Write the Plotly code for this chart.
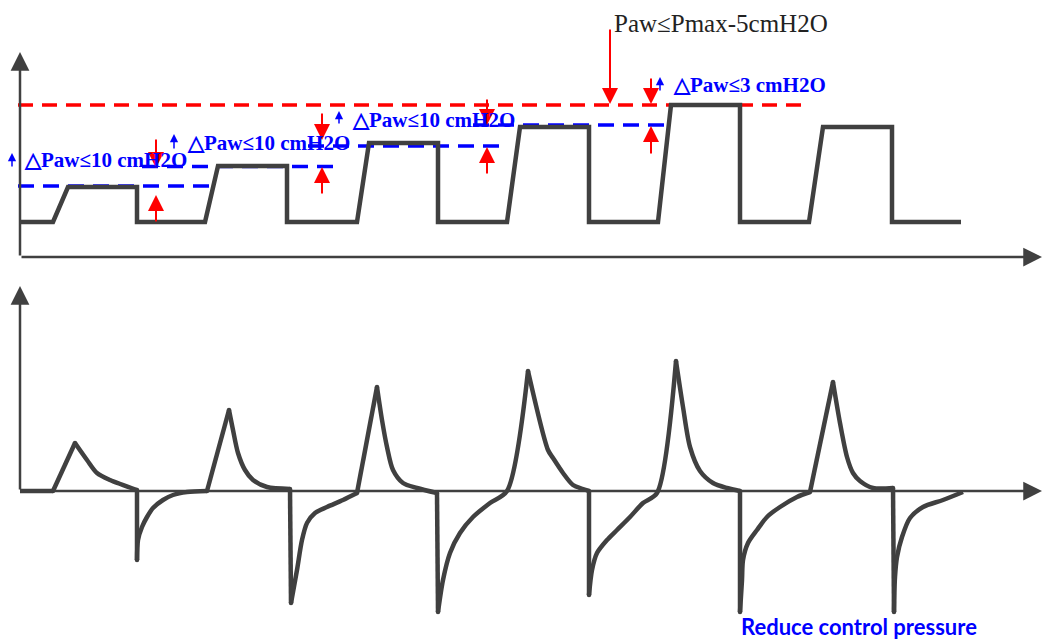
import math
import plotly.graph_objects as go

# ---- top panel: airway pressure (time, level) ----
paw_t = [0, 33, 48, 117, 117, 185, 198, 267, 267, 337, 349, 418, 418, 487, 500, 569,
         569, 638, 651, 720, 720, 789, 803, 872, 872, 941]
paw_v = [35, 35, 70, 70, 35, 35, 91, 91, 35, 35, 114, 114, 35, 35, 130, 130,
         35, 35, 152, 152, 35, 35, 130, 130, 35, 35]

# red limit line (Pmax - 5)
pmax_level = 152
pmax_t = [-2, 790]

# blue target lines: level, start, end
target_level = [71, 90.5, 111, 132]
target_start = [-2, 122, 288, 453]
target_end = [193, 315, 482, 647]

# red arrows: time, down arrow (from, to), up arrow (from, to)
red_t = [136, 302, 467, 631]
red_down_from = [119, 145, 159, 180]
red_down_to = [89, 117, 132, 153]
red_up_from = [34, 62, 82, 102]
red_up_to = [62, 90, 110, 131]

# long arrow to the Pmax line
pmax_arrow_t = 590
pmax_arrow_from = 229
pmax_arrow_to = 153

# blue labels
label_text = ["△Paw≤10 cmH2O", "△Paw≤10 cmH2O", "△Paw≤10 cmH2O", "△Paw≤3 cmH2O"]
label_t = [2, 165, 330, 651]
label_v = [97, 114, 137, 172]
small_arrow_t = [-8, 154, 319, 640]
small_arrow_from = [89, 107, 132, 165]
small_arrow_to = [104, 123, 146, 180]

pmax_label = "Paw≤Pmax-5cmH2O"
pmax_label_t = 592
pmax_label_v = 234

# ---- bottom panel: flow ----
flow_t = [0, 33, 55, 67, 77, 90, 117,
          117, 118, 122, 127, 133, 143, 153, 167, 187,
          209, 213, 218, 225, 233, 247, 270,
          271, 277, 282, 287, 295, 307, 323, 337,
          357, 362, 367, 373, 383, 397, 417,
          418, 423, 430, 440, 453, 470, 487,
          508, 528, 533, 543, 553, 563, 569,
          569, 572, 577, 587, 597, 610, 623, 637,
          656, 663, 670, 680, 693, 707, 720,
          720, 722, 723, 728, 737, 747, 760, 777, 790,
          813, 820, 827, 833, 840, 853, 873,
          874, 875, 877, 882, 890, 903, 923, 943]
flow_v = [0, 0, 48, 31, 18, 11, 1,
          -69, -49, -36, -26, -17, -9, -4, -1, 0,
          81, 61, 38, 21, 11, 4, 2,
          -112, -79, -49, -32, -22, -16, -9, -2,
          104, 71, 44, 21, 8, 3, -2,
          -121, -89, -62, -42, -26, -12, 0,
          120, 41, 33, 18, 6, 2, 0,
          -104, -79, -62, -49, -39, -26, -12, -2,
          130, 84, 44, 20, 8, 3, 0,
          -121, -89, -69, -52, -39, -26, -16, -6, -1,
          109, 68, 34, 18, 10, 3, 3,
          -121, -86, -66, -46, -27, -16, -9, -1]

bottom_label = "Reduce control pressure"
bottom_label_t = 719
bottom_label_v = -151

axis_end = 1022
axis_top = 205

DARK = "#404040"
RED = "#FF0000"
BLUE = "#0000FF"


# split the flow curve at its sharp corners so the smooth parts can be splined
def turn(i):
    a = math.atan2(flow_v[i] - flow_v[i - 1], flow_t[i] - flow_t[i - 1])
    b = math.atan2(flow_v[i + 1] - flow_v[i], flow_t[i + 1] - flow_t[i])
    d = abs(b - a)
    return min(d, 2 * math.pi - d)


corners = [i for i in range(1, len(flow_t) - 1) if turn(i) > math.radians(50)]
seg_x, seg_y = [], []
start = 0
for c in corners + [len(flow_t) - 1]:
    seg_x += flow_t[start:c + 1] + [None]
    seg_y += flow_v[start:c + 1] + [None]
    start = c

fig = go.Figure()

fig.add_trace(go.Scatter(x=pmax_t, y=[pmax_level] * 2, mode="lines",
                         line=dict(color=RED, width=3.5, dash="15px,9px"),
                         hoverinfo="skip"))
for lv, t0, t1 in zip(target_level, target_start, target_end):
    fig.add_trace(go.Scatter(x=[t0, t1], y=[lv, lv], mode="lines",
                             line=dict(color=BLUE, width=3.5, dash="16px,9px"),
                             hoverinfo="skip"))

fig.add_trace(go.Scatter(x=paw_t, y=paw_v, mode="lines",
                         line=dict(color=DARK, width=4.5), hoverinfo="skip"))
fig.add_trace(go.Scatter(x=seg_x, y=seg_y, mode="lines", yaxis="y2",
                         line=dict(color=DARK, width=4.5, shape="spline", smoothing=0.8),
                         connectgaps=False, hoverinfo="skip"))
fig.add_trace(go.Scatter(x=[flow_t[i] for i in corners], y=[flow_v[i] for i in corners],
                         mode="markers", yaxis="y2",
                         marker=dict(color=DARK, size=4.5, line=dict(width=0)),
                         hoverinfo="skip"))

ann = []


def arrow(t0, v0, t1, v1, color, width, size, yref="y"):
    ann.append(dict(x=t1, y=v1, ax=t0, ay=v0, xref="x", yref=yref, axref="x", ayref=yref,
                    showarrow=True, arrowhead=2, arrowwidth=width, arrowsize=size,
                    arrowcolor=color, text=""))


# axes with arrow tips
arrow(0, 0, 0, axis_top, DARK, 2.5, 1.5)
arrow(0, 0, axis_end, 0, DARK, 2.5, 1.5)
arrow(0, 0, 0, axis_top, DARK, 2.5, 1.5, "y2")
arrow(0, 0, axis_end, 0, DARK, 2.5, 1.5, "y2")

for t, a, b, c, d in zip(red_t, red_down_from, red_down_to, red_up_from, red_up_to):
    arrow(t, a, t, b, RED, 2, 1.6)
    arrow(t, c, t, d, RED, 2, 1.6)
arrow(pmax_arrow_t, pmax_arrow_from, pmax_arrow_t, pmax_arrow_to, RED, 2, 1.6)

for t, a, b in zip(small_arrow_t, small_arrow_from, small_arrow_to):
    arrow(t, a, t, b, BLUE, 1.5, 1.1)

for txt, t, v in zip(label_text, label_t, label_v):
    ann.append(dict(x=t, y=v, xref="x", yref="y", text=txt, showarrow=False,
                    xanchor="left", yanchor="middle",
                    font=dict(family="Times New Roman, Liberation Serif, serif",
                              size=21, color=BLUE, weight="bold")))

ann.append(dict(x=pmax_label_t, y=pmax_label_v, xref="x", yref="y", text=pmax_label,
                showarrow=False, xanchor="left", yanchor="middle",
                font=dict(family="Times New Roman, Liberation Serif, serif",
                          size=25, color="#222222")))

ann.append(dict(x=bottom_label_t, y=bottom_label_v, xref="x", yref="y2", text=bottom_label,
                showarrow=False, xanchor="left", yanchor="bottom",
                font=dict(family="Lato, Open Sans, sans-serif", size=22,
                          color=BLUE, weight="bold")))

fig.update_layout(
    width=1043, height=643,
    margin=dict(l=0, r=0, t=0, b=0),
    showlegend=False,
    plot_bgcolor="white", paper_bgcolor="white",
    xaxis=dict(range=[-20, 1023], visible=False, fixedrange=True),
    yaxis=dict(range=[-386, 257], visible=False, fixedrange=True),
    yaxis2=dict(range=[-152, 491], visible=False, overlaying="y", fixedrange=True),
    annotations=ann,
)

fig.write_html("out.html", config={"displayModeBar": False},
               post_script="document.body.style.margin='0';")
